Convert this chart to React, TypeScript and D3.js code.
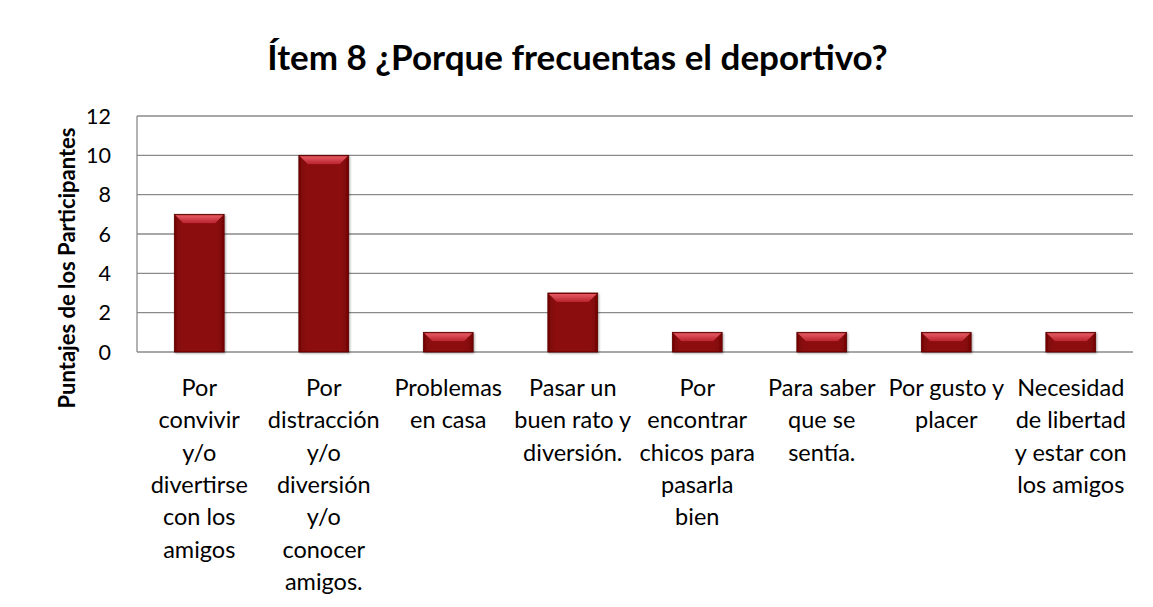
import React from "react";
import * as d3 from "d3";

const TITLE = "Ítem 8 ¿Porque frecuentas el deportivo?";
const Y_TITLE = "Puntajes de los Participantes";
const CATEGORY_LINES: string[][] = [
  ["Por", "convivir", "y/o", "divertirse", "con los", "amigos"],
  ["Por", "distracción", "y/o", "diversión", "y/o", "conocer", "amigos."],
  ["Problemas", "en casa"],
  ["Pasar un", "buen rato y", "diversión."],
  ["Por", "encontrar", "chicos para", "pasarla", "bien"],
  ["Para saber", "que se", "sentía."],
  ["Por gusto y", "placer"],
  ["Necesidad", "de libertad", "y estar con", "los amigos"],
];
const VALUES = [7, 10, 1, 3, 1, 1, 1, 1];
const Y_TICKS = [0, 2, 4, 6, 8, 10, 12];

const W = 1153;
const H = 607;
const M = { left: 137, right: 20, top: 116, bottom: 255 };

export default function App() {
  const x = d3
    .scaleBand<number>()
    .domain(VALUES.map((_, i) => i))
    .range([M.left, W - M.right])
    .paddingInner(0.6)
    .paddingOuter(0.3);
  const y = d3.scaleLinear().domain([0, 12]).range([H - M.bottom, M.top]);
  const font = "Lato, 'Open Sans', sans-serif";
  const bevel = 9;

  return (
    <svg
      width={W}
      height={H}
      style={{ position: "absolute", left: 0, top: 0, background: "#fff" }}
      fontFamily={font}
    >
      <defs>
        <linearGradient id="body" x1="0" x2="1" y1="0" y2="0">
          <stop offset="0" stopColor="#760505" />
          <stop offset="0.15" stopColor="#8c0a0a" />
          <stop offset="0.85" stopColor="#8c0a0a" />
          <stop offset="1" stopColor="#760505" />
        </linearGradient>
        <linearGradient id="bev" x1="0" x2="0" y1="0" y2="1">
          <stop offset="0" stopColor="#e65a64" />
          <stop offset="1" stopColor="#b8232b" />
        </linearGradient>
        <filter id="sh" x="-20%" y="-20%" width="140%" height="140%">
          <feDropShadow dx="1" dy="1" stdDeviation="1.2" floodColor="#000" floodOpacity="0.35" />
        </filter>
      </defs>
      <text x={W / 2 + 1} y={70} textAnchor="middle" fontSize={35} fontWeight="bold" fill="#000">
        {TITLE}
      </text>
      {Y_TICKS.map((t) => (
        <g key={t}>
          <line x1={M.left} x2={W - M.right} y1={y(t)} y2={y(t)} stroke="#8a8a8a" strokeWidth={1.3} />
          <text x={111} y={y(t)} dy="0.36em" textAnchor="end" fontSize={21.5} fill="#000">
            {t}
          </text>
        </g>
      ))}
      <line x1={M.left} x2={M.left} y1={y(12)} y2={y(0)} stroke="#8a8a8a" strokeWidth={1.3} />
      {VALUES.map((v, i) => {
        const x0 = x(i)!;
        const bw = x.bandwidth();
        const yt = y(v);
        const yb = y(0);
        const bh = Math.min(bevel, (yb - yt) / 2);
        return (
          <g key={i} filter="url(#sh)">
            <rect x={x0} y={yt} width={bw} height={yb - yt} fill="url(#body)" stroke="#5a0000" strokeWidth={0.8} />
            <polygon
              points={`${x0 + 1},${yt + 1} ${x0 + bw - 1},${yt + 1} ${x0 + bw - bh},${yt + bh} ${x0 + bh},${yt + bh}`}
              fill="url(#bev)"
            />
          </g>
        );
      })}
      {CATEGORY_LINES.map((lines, i) => (
        <text key={i} textAnchor="middle" fontSize={23.5} fill="#000">
          {lines.map((ln, j) => (
            <tspan key={j} x={x(i)! + x.bandwidth() / 2} y={y(0) + 44 + j * 32.3}>
              {ln}
            </tspan>
          ))}
        </text>
      ))}
      <text
        transform={`translate(75, 268) rotate(-90)`}
        textAnchor="middle"
        fontSize={22}
        fontWeight="bold"
        fill="#000"
      >
        {Y_TITLE}
      </text>
    </svg>
  );
}
